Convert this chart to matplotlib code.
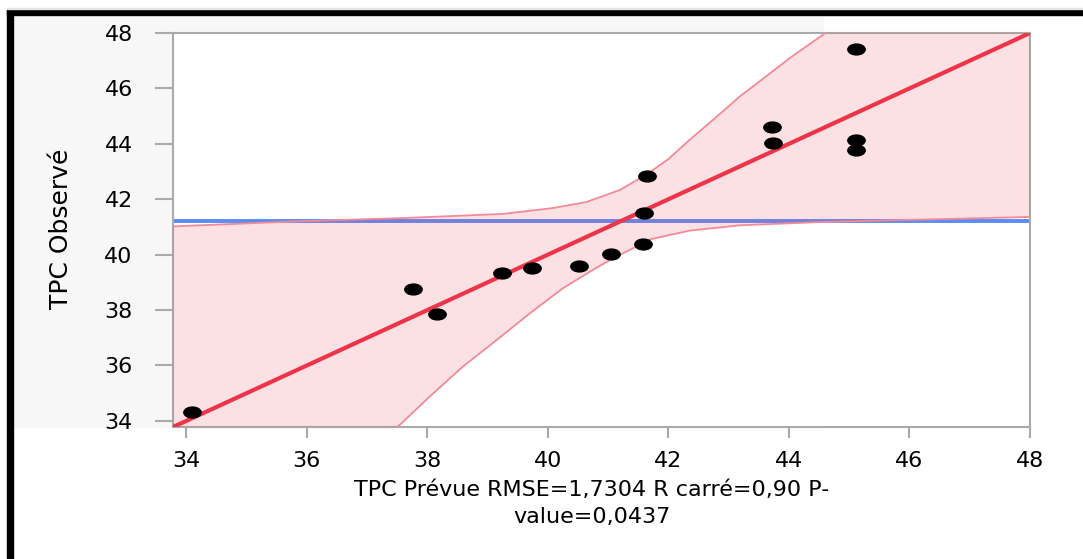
import matplotlib
matplotlib.use('Agg')
import matplotlib.pyplot as plt
import numpy as np
from matplotlib.path import Path
from matplotlib.patches import Rectangle
from matplotlib.transforms import Affine2D

# observed vs predicted points
pred = [34.09, 37.76, 38.16, 39.24, 39.74, 40.51, 41.04, 41.58, 41.60, 41.64,
        43.72, 43.74, 45.12, 45.12, 45.12]
obs = [34.31, 38.75, 37.85, 39.33, 39.52, 39.60, 40.04, 40.39, 41.50, 42.85,
       44.61, 44.04, 47.42, 44.14, 43.77]

# fitted line and mean line
fit_x = [33.78, 48.0]
fit_y = [33.78, 48.0]
mean_y = 41.20

# confidence curves
upper_x = [33.78, 35.93, 37.59, 39.25, 40.08, 40.64, 41.19, 41.63, 42.0, 42.35,
           42.77, 43.18, 43.60, 44.01, 44.56, 48.0]
upper_y = [41.02, 41.21, 41.32, 41.47, 41.68, 41.90, 42.33, 42.88, 43.45, 44.14,
           44.92, 45.70, 46.40, 47.09, 47.93, 53.8]
lower_x = [33.78, 37.54, 38.04, 38.59, 39.15, 39.70, 40.25, 40.70, 41.08, 41.36,
           41.69, 42.36, 43.19, 44.56, 48.0]
lower_y = [28.00, 33.85, 34.88, 35.96, 36.92, 37.88, 38.79, 39.39, 39.87, 40.17,
           40.55, 40.87, 41.06, 41.18, 41.36]

xticks = [34, 36, 38, 40, 42, 44, 46, 48]
yticks = [34, 36, 38, 40, 42, 44, 46, 48]

W, H = 1083, 559
fig = plt.figure(figsize=(W / 100, H / 100), dpi=100)

# light gray panel behind the plot + black frame lines
fig.add_artist(Rectangle((15 / W, 1 - 427 / H), (823 - 15) / W, (427 - 17) / H,
                         transform=fig.transFigure, color='#f7f7f7', zorder=-2))
fig.add_artist(Rectangle((7 / W, 1 - 15 / H), 1 - 7 / W, 5 / H,
                         transform=fig.transFigure, color='black', zorder=-1))
fig.add_artist(Rectangle((7 / W, 0), 6 / W, 1 - 10 / H,
                         transform=fig.transFigure, color='black', zorder=-1))
fig.add_artist(Rectangle((7 / W, 1 - 9 / H), 1 - 7 / W, 1 / H,
                         transform=fig.transFigure, color='#e6e6e6', zorder=-1))

ax = fig.add_axes([173 / W, 1 - 427 / H, (1030 - 173) / W, (427 - 33) / H])
ax.set_zorder(1)
ax.set_facecolor('white')

ax.axhline(mean_y, color='#5b8cf5', lw=2.8, zorder=2)

poly_x = upper_x + lower_x[::-1]
poly_y = upper_y + lower_y[::-1]
ax.fill(poly_x, poly_y, color='#f03c50', alpha=0.15, lw=0, zorder=3)
ax.plot(upper_x, upper_y, color='#f38a96', lw=1.3, zorder=4)
ax.plot(lower_x, lower_y, color='#f38a96', lw=1.3, zorder=4)

ax.plot(fit_x, fit_y, color='#ee3448', lw=3, zorder=5, solid_capstyle='butt')

# wide oval dots
circ = Path.unit_circle()
oval = Path(Affine2D().scale(1.6, 1.0).transform(circ.vertices), circ.codes)
ax.plot(pred, obs, ls='none', marker=oval, ms=12.5, color='black', zorder=6)

ax.set_xlim(33.78, 48.0)
ax.set_ylim(33.78, 48.0)
ax.set_xticks(xticks)
ax.set_yticks(yticks)

for s in ax.spines.values():
    s.set_color('#aaaaaa')
    s.set_linewidth(1.5)
ax.tick_params(axis='y', length=13, width=1.5, color='#aaaaaa', pad=16, labelsize=16)
ax.tick_params(axis='x', length=8, width=1.5, color='#aaaaaa', pad=9, labelsize=16)

ax.set_xlabel('TPC Prévue RMSE=1,7304 R carré=0,90 P-\nvalue=0,0437', fontsize=16,
              linespacing=1.45)
ax.xaxis.set_label_coords(0.489, -0.134)

ax.set_ylabel('TPC Observé', fontsize=18, va='center')
ax.yaxis.set_label_coords(-0.1307, 0.5025)

fig.savefig('out.png', dpi=100)
